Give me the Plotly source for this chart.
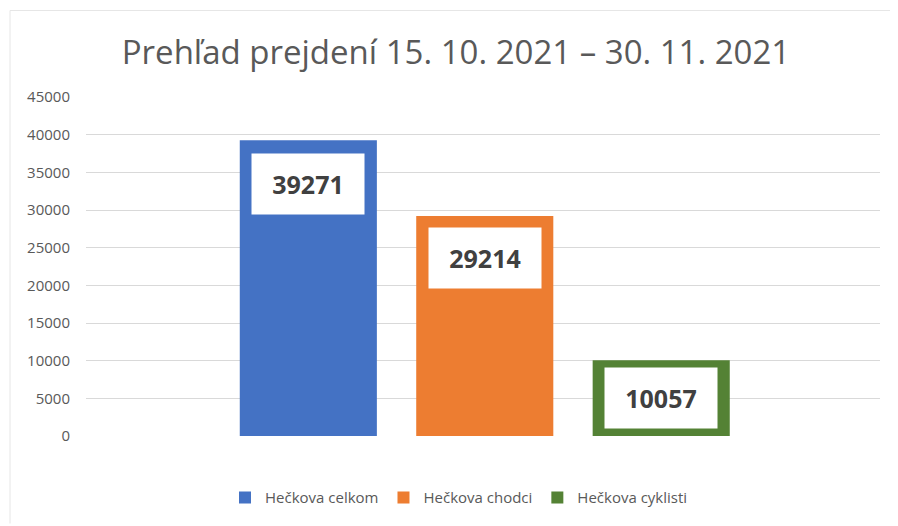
import plotly.graph_objects as go

series = ["Hečkova celkom", "Hečkova chodci", "Hečkova cyklisti"]
values = [39271, 29214, 10057]
colors = ["#4472C4", "#ED7D31", "#548235"]
title_text = "Prehľad prejdení 15. 10. 2021 – 30. 11. 2021"
y_ticks = list(range(0, 45001, 5000))

# page body has an 8px default margin; compensate so the plot lands where the reference has it
OFF = 8
W, H = 898 - OFF, 526 - OFF
L, R, T, B = 86 - OFF, 898 - 880, 97 - OFF, 526 - 438
PW, PH = W - L - R, H - T - B

label_shift = [-13, -11, -7]

fig = go.Figure()
for name, v, c in zip(series, values, colors):
    fig.add_trace(go.Bar(
        x=[name], y=[v], name=name, marker=dict(color=c, line=dict(width=0)),
        width=0.777, hoverinfo="name+y",
    ))

annotations = []
for name, v, ys in zip(series, values, label_shift):
    annotations.append(dict(
        x=name, y=v, xref="x", yref="y", text=f"<b>{v}</b>", showarrow=False,
        yanchor="top", yshift=ys, bgcolor="#FFFFFF", width=108, height=56,
        borderpad=2, font=dict(family="Open Sans", size=25, color="#404040"),
    ))

fig.update_layout(
    width=W, height=H,
    paper_bgcolor="#FFFFFF", plot_bgcolor="#FFFFFF",
    margin=dict(l=L, r=R, t=T, b=B),
    barmode="overlay",
    title=dict(text=title_text, x=(456 - OFF) / W, xref="container", xanchor="center",
               y=1 - (52 - OFF) / H, yanchor="middle",
               font=dict(family="Open Sans", size=33, color="#595959")),
    xaxis=dict(range=[-1.26, 3.24], showticklabels=False, showgrid=False, zeroline=False,
               showline=False, fixedrange=True),
    yaxis=dict(range=[0, 45000], tickvals=y_ticks, ticktext=[str(t) for t in y_ticks],
               showgrid=True, gridcolor="#D9D9D9", gridwidth=1, zeroline=False, showline=False,
               tickfont=dict(family="Open Sans", size=15, color="#595959"),
               ticklabelstandoff=15),
    showlegend=True,
    legend=dict(orientation="h", x=(459 - 86) / PW, xanchor="center",
                y=-(500 - 438) / PH, yanchor="middle",
                font=dict(family="Open Sans", size=15, color="#595959"),
                itemwidth=30, tracegroupgap=0),
    annotations=annotations,
    shapes=[
        dict(type="line", xref="paper", yref="paper", x0=(10 - 86) / PW, x1=1 + R / PW,
             y0=1 + (97 - 10) / PH, y1=1 + (97 - 10) / PH, line=dict(color="#E6E6E6", width=1)),
        dict(type="line", xref="paper", yref="paper", x0=(10 - 86) / PW, x1=(10 - 86) / PW,
             y0=1 + (97 - 10) / PH, y1=-B / PH, line=dict(color="#E6E6E6", width=1)),
    ],
)

fig.write_html("out.html")
